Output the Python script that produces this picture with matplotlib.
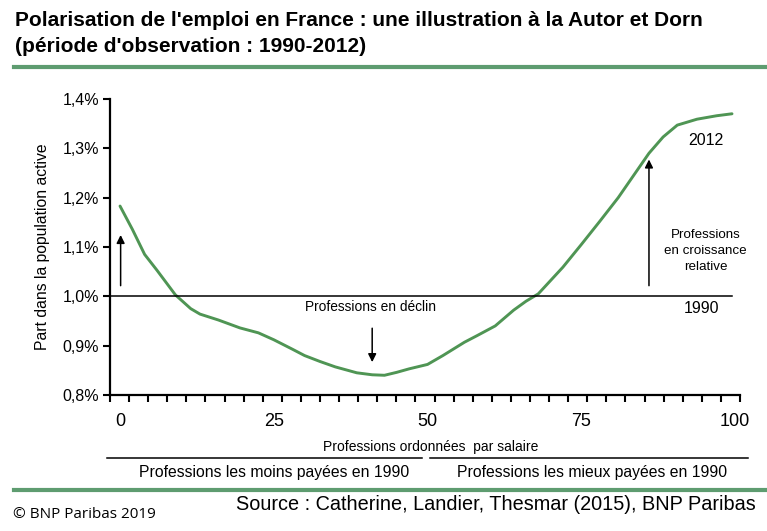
import matplotlib
matplotlib.use("Agg")
import matplotlib.pyplot as plt
import numpy as np
from matplotlib.lines import Line2D

# curve (rank of profession by 1990 wage, share of workforce in %)
rank = [0, 2, 4, 6, 9, 11.5, 13, 16, 19.5, 22.5, 25, 28, 30, 32.5, 35, 38.5, 41, 43,
        45, 47, 50, 52.5, 56, 58, 61, 64, 66, 68, 72, 75, 78, 81, 83, 86, 88.3, 90.6,
        93.8, 97, 99.5]
share = [1.183, 1.136, 1.085, 1.053, 1.003, 0.975, 0.964, 0.952, 0.936, 0.926, 0.912,
         0.893, 0.880, 0.868, 0.857, 0.845, 0.841, 0.840, 0.846, 0.853, 0.862, 0.880,
         0.907, 0.920, 0.940, 0.972, 0.990, 1.005, 1.059, 1.105, 1.152, 1.200, 1.236,
         1.290, 1.323, 1.347, 1.359, 1.366, 1.370]
baseline = 1.0
yticks = [0.8, 0.9, 1.0, 1.1, 1.2, 1.3, 1.4]
xticks = [0, 25, 50, 75, 100]

plt.rcParams['font.family'] = ['Liberation Sans', 'DejaVu Sans']

green = '#4f9554'
rule = '#5e9c70'

fig = plt.figure(figsize=(7.67, 5.31), dpi=100)
ax = fig.add_axes([0.1434, 0.2561, 0.8214, 0.5575])

xmin, xmax = -1.63, 100.8
ax.plot(rank, share, color=green, lw=2.1, solid_joinstyle='round', solid_capstyle='round')
ax.plot([xmin, 99.5], [baseline, baseline], color='black', lw=1.1)

ax.set_xlim(xmin, xmax)
ax.set_ylim(0.8, 1.4)
ax.set_yticks(yticks)
ax.set_yticklabels([("%.1f%%" % v).replace('.', ',') for v in yticks], fontsize=11.5)
ax.set_xticks(xticks)
ax.set_xticklabels([str(v) for v in xticks], fontsize=13)
ax.set_xticks(np.linspace(xmin, xmax, 34), minor=True)
ax.tick_params(axis='x', which='major', length=0, pad=13)
ax.tick_params(axis='x', which='minor', length=5, width=1.5, direction='out')
ax.tick_params(axis='y', length=5, width=1.5, pad=3)
for s in ['top', 'right']:
    ax.spines[s].set_visible(False)
for s in ['left', 'bottom']:
    ax.spines[s].set_linewidth(1.6)
ax.set_ylabel("Part dans la population active", fontsize=11.3, labelpad=9)

# annotations
arw = dict(arrowstyle='-|>', color='black', lw=1.1, mutation_scale=12)
ax.annotate('', xy=(0.1, 1.13), xytext=(0.1, 1.016), arrowprops=arw)
ax.annotate('', xy=(86.0, 1.283), xytext=(86.0, 1.016), arrowprops=arw)
ax.annotate('', xy=(41.0, 0.861), xytext=(41.0, 0.941), arrowprops=arw)
ax.text(40.7, 0.978, "Professions en déclin", ha='center', va='center', fontsize=9.9)
ax.text(94.6, 0.975, "1990", ha='center', va='center', fontsize=11.5)
ax.text(95.3, 1.316, "2012", ha='center', va='center', fontsize=11.5)
ax.text(95.2, 1.092, "Professions\nen croissance\nrelative", ha='center', va='center',
        fontsize=9.6, linespacing=1.45)

# titles and bottom annotations
fig.text(0.02, 1 - 20 / 531, "Polarisation de l'emploi en France : une illustration à la Autor et Dorn",
         ha='left', va='center', fontsize=15, fontweight='bold')
fig.text(0.02, 1 - 47 / 531, "(période d'observation : 1990-2012)",
         ha='left', va='center', fontsize=15, fontweight='bold')
fig.add_artist(Line2D([0.018, 1.0], [1 - 67 / 531, 1 - 67 / 531], color=rule, lw=3))
fig.add_artist(Line2D([0.018, 1.0], [1 - 490 / 531, 1 - 490 / 531], color=rule, lw=3))

fig.text(431 / 767, 1 - 447 / 531, "Professions ordonnées  par salaire", ha='center',
         va='center', fontsize=10)
fig.add_artist(Line2D([107 / 767, 422 / 767], [1 - 458 / 531] * 2, color='black', lw=1.1))
fig.add_artist(Line2D([430 / 767, 748 / 767], [1 - 458 / 531] * 2, color='black', lw=1.1))
fig.text(274 / 767, 1 - 473 / 531, "Professions les moins payées en 1990", ha='center',
         va='center', fontsize=11.3)
fig.text(592 / 767, 1 - 473 / 531, "Professions les mieux payées en 1990", ha='center',
         va='center', fontsize=11.3)
fig.text(756 / 767, 1 - 505 / 531, "Source : Catherine, Landier, Thesmar (2015), BNP Paribas",
         ha='right', va='center', fontsize=14.3)
fig.text(13 / 767, 1 - 515 / 531, "© BNP Paribas 2019", ha='left', va='center',
         fontsize=11, family=['Open Sans', 'DejaVu Sans'])

fig.savefig("out.png", dpi=100)
